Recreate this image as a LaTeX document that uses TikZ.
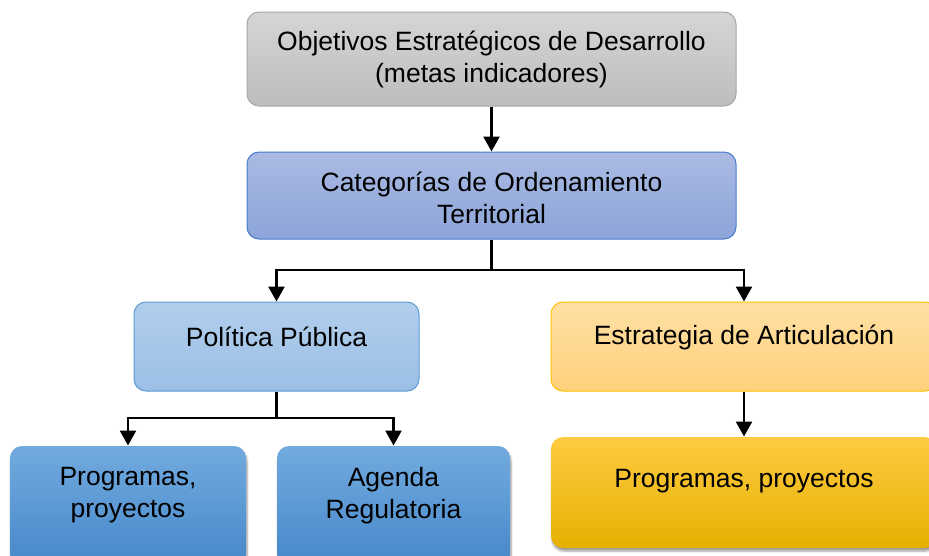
\documentclass[tikz,border=0pt]{standalone}
\usepackage{fontspec}
\setmainfont{Liberation Sans}
\usetikzlibrary{arrows.meta,shadows.blur}
\definecolor{grayT}{HTML}{D5D5D5}
\definecolor{grayB}{HTML}{BDBDBD}
\definecolor{grayL}{HTML}{A6A6A6}
\definecolor{catT}{HTML}{AABAE3}
\definecolor{catB}{HTML}{8DA5D9}
\definecolor{catL}{HTML}{4A7BCF}
\definecolor{ppT}{HTML}{B2CEEC}
\definecolor{ppB}{HTML}{9BBFE6}
\definecolor{ppL}{HTML}{5B9BD5}
\definecolor{blT}{HTML}{72AADF}
\definecolor{blB}{HTML}{4688CA}
\definecolor{orT}{HTML}{FFE0A3}
\definecolor{orB}{HTML}{FFD17C}
\definecolor{orL}{HTML}{FFC000}
\definecolor{odT}{HTML}{FFCB42}
\definecolor{odB}{HTML}{E6B000}
\tikzset{
  box/.style={rectangle, rounded corners=12pt, inner sep=0pt, line width=1pt, align=center},
  gbox/.style={box, draw=grayL, top color=grayT, bottom color=grayB},
  cbox/.style={box, draw=catL, top color=catT, bottom color=catB},
  pbox/.style={box, draw=ppL, top color=ppT, bottom color=ppB},
  bbox/.style={box, top color=blT, bottom color=blB, blur shadow={shadow xshift=1pt, shadow yshift=-3pt, shadow blur steps=6}},
  obox/.style={box, draw=orL, top color=orT, bottom color=orB},
  dbox/.style={box, top color=odT, bottom color=odB, blur shadow={shadow xshift=1pt, shadow yshift=-3pt, shadow blur steps=6}},
  conn/.style={line width=2.6pt, black},
  arr/.style={conn, -{Triangle[width=16pt,length=15pt]}},
  txt/.style={align=center, inner sep=0pt}
}
\begin{document}
\begin{tikzpicture}[x=1pt, y=-1pt, font=\fontsize{26.5}{32}\selectfont]
\useasboundingbox (0,0) rectangle (929,555);
\node[gbox, minimum width=489pt, minimum height=94pt] (top) at (491.5,59) {Objetivos Estratégicos de Desarrollo\\(metas indicadores)};
\node[cbox, minimum width=489pt, minimum height=87pt] (cat) at (491.5,195.5) {};
\node[txt] (catt) at (491.5,198) {Categorías de Ordenamiento\\Territorial};
\node[pbox, minimum width=285pt, minimum height=89pt] (pp) at (276.5,346.5) {};
\node[txt] (ppt) at (276.5,337) {Política Pública};
\node[obox, minimum width=386pt, minimum height=89pt] (est) at (744,346.5) {};
\node[txt] (estt) at (744,337) {Estrategia de Articulación};
\node[bbox, minimum width=236pt, minimum height=120pt] (prl) at (128,506) {};
\node[txt] (prlt) at (128,495) {Programas,\\proyectos};
\node[bbox, minimum width=233pt, minimum height=120pt] (ag) at (393.5,506) {};
\node[txt] (agt) at (393.5,496) {Agenda\\Regulatoria};
\node[dbox, minimum width=386pt, minimum height=111pt] (prr) at (744,492.5) {};
\node[txt] (prrt) at (744,481) {Programas, proyectos};
\coordinate (j1) at (491.5,270);
\coordinate (j2) at (276.5,418);
\draw[arr] (top.south) -- (cat.north);
\draw[conn] (cat.south) -- (j1);
\draw[arr] (j1) -| (pp.north);
\draw[arr] (j1) -| (est.north);
\draw[conn] (pp.south) -- (j2);
\draw[arr] (j2) -| (prl.north);
\draw[arr] (j2) -| (ag.north);
\draw[arr] (est.south) -- (prr.north);
\end{tikzpicture}
\end{document}
